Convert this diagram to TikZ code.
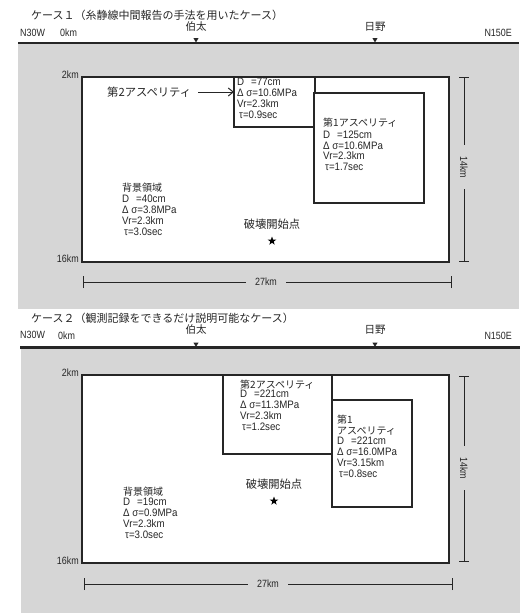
\documentclass[tikz,border=0pt]{standalone}
\usepackage{fontspec}
\newfontfamily\jp{Noto Sans CJK JP}
\newfontfamily\cond[FakeStretch=0.85]{Liberation Sans}
\newfontfamily\condp[FakeStretch=0.9]{Liberation Sans}
\usetikzlibrary{shapes.geometric,arrows.meta}
\definecolor{bg}{gray}{0.84}
\definecolor{ink}{gray}{0.15}
\begin{document}
\begin{tikzpicture}[x=1pt,y=-1pt,
  frame/.style={draw=ink, line width=1.9pt, fill=white, inner sep=0, outer sep=0, anchor=north west},
  aspbox/.style={draw=ink, line width=1.6pt, fill=white, inner sep=0, outer sep=0, anchor=north west},
  par/.style={font=\condp\fontsize{10.8}{10.8}\selectfont, text=ink, align=left, anchor=north west, inner sep=0},
  jlab/.style={font=\jp\fontsize{10}{12}\selectfont, text=ink, inner sep=0},
  jbig/.style={font=\jp\fontsize{11.3}{13}\selectfont, text=ink, inner sep=0},
  small/.style={font=\cond\fontsize{10.5}{11}\selectfont, text=ink, inner sep=0},
  dim/.style={draw=ink, line width=0.9pt},
  topline/.style={draw=ink, line width=2.8pt},
  stn/.style={regular polygon, regular polygon sides=3, shape border rotate=180, fill=ink, inner sep=0, minimum size=6pt},
  epic/.style={star, star points=5, star point ratio=2.5, fill=black, inner sep=0, minimum size=9pt},
  dimlab/.style={small, fill=bg, inner xsep=9pt, inner ysep=1pt},
  arr/.style={draw=ink, line width=1pt, -{Straight Barb[length=5pt,width=8pt]}}
]
\useasboundingbox (0,0) rectangle (529,613);
\fill[white] (0,0) rectangle (529,613);

% ================= Panel 1 =================
\fill[bg] (18,43) rectangle (519,309);
\draw[topline] (18,43) -- (519,43);
\node[jbig, font=\jp\fontsize{11}{13}\selectfont, anchor=west] (title1) at (31,15) {ケース１（糸静線中間報告の手法を用いたケース）};
\node[small, anchor=west] (nw1) at (20,33) {N30W};
\node[small, anchor=west] (ok1) at (60,33) {0km};
\node[jlab, font=\jp\fontsize{10.5}{12}\selectfont] (hakuta1) at (196,27) {伯太};
\node[stn] (hm1) at (196,39.5) {};
\node[jlab, font=\jp\fontsize{10.5}{12}\selectfont] (hino1) at (375,27) {日野};
\node[stn] (nm1) at (375,39.5) {};
\node[small, anchor=east] (ne1) at (512,33) {N150E};

\node[frame, minimum width=367pt, minimum height=185pt] (main1) at (82,77) {};
\node[small, anchor=east] (k2a) at (79,75) {2km};
\node[small, anchor=east] (k16a) at (79,259) {16km};

\node[aspbox, minimum width=81pt, minimum height=50pt] (asp2a) at (234,77) {};
\node[aspbox, minimum width=110pt, minimum height=110pt] (asp1a) at (314,93) {};

\node[par] (p2a) at (237,78) {D\hspace{7pt}=77cm\\Δ σ=10.6MPa\\Vr=2.3km\\\hspace{2pt}τ=0.9sec};
\node[jbig, anchor=west] (l2a) at (107,92) {第2アスペリティ};
\draw[arr] ([xshift=7pt]l2a.east) -- (l2a.east -| asp2a.west);

\node[jlab, anchor=west] (h1a) at (323,123) {第1アスペリティ};
\node[par] (p1a) at (323,130.5) {D\hspace{7pt}=125cm\\Δ σ=10.6MPa\\Vr=2.3km\\\hspace{2pt}τ=1.7sec};

\node[jlab, anchor=west] (hb1) at (122,188) {背景領域};
\node[par] (pb1) at (122,195) {D\hspace{7pt}=40cm\\Δ σ=3.8MPa\\Vr=2.3km\\\hspace{2pt}τ=3.0sec};

\node[jbig] (hk1) at (272,224) {破壊開始点};
\node[epic] (st1) at (272,241) {};

\coordinate (d14a1) at (464,77);
\coordinate (d14b1) at (464,261);
\draw[dim] (d14a1) -- (d14b1);
\draw[dim] ([xshift=-5pt]d14a1) -- ([xshift=5pt]d14a1);
\draw[dim] ([xshift=-5pt]d14b1) -- ([xshift=5pt]d14b1);
\node[dimlab, rotate=-90, inner xsep=11pt] (l14a) at (464,167) {14km};

\coordinate (d27a1) at (83,282);
\coordinate (d27b1) at (451,282);
\draw[dim] (d27a1) -- (d27b1);
\draw[dim] ([yshift=-6pt]d27a1) -- ([yshift=6pt]d27a1);
\draw[dim] ([yshift=-6pt]d27b1) -- ([yshift=6pt]d27b1);
\node[dimlab] (l27a) at (266,282) {27km};

% ================= Panel 2 =================
\fill[bg] (21,348) rectangle (520,613);
\draw[topline] (20,347.5) -- (520,347.5);
\node[jbig, font=\jp\fontsize{11}{13}\selectfont, anchor=west] (title2) at (31,318) {ケース２（観測記録をできるだけ説明可能なケース）};
\node[small, anchor=west] (nw2) at (20,335) {N30W};
\node[small, anchor=west] (ok2) at (58,336) {0km};
\node[jlab, font=\jp\fontsize{10.5}{12}\selectfont] (hakuta2) at (196,330) {伯太};
\node[stn] (hm2) at (196,344) {};
\node[jlab, font=\jp\fontsize{10.5}{12}\selectfont] (hino2) at (375,330) {日野};
\node[stn] (nm2) at (375,344) {};
\node[small, anchor=east] (ne2) at (512,336) {N150E};

\node[frame, minimum width=367pt, minimum height=188pt] (main2) at (82,375) {};
\node[small, anchor=east] (k2b) at (79,373) {2km};
\node[small, anchor=east] (k16b) at (79,561) {16km};

\node[aspbox, minimum width=109pt, minimum height=79pt] (asp2b) at (223,375) {};
\node[aspbox, minimum width=80pt, minimum height=107pt] (asp1b) at (332,400) {};

\node[jlab, anchor=west] (h2b) at (240,385) {第2アスペリティ};
\node[par] (p2b) at (240,390) {D\hspace{7pt}=221cm\\Δ σ=11.3MPa\\Vr=2.3km\\\hspace{2pt}τ=1.2sec};

\node[jlab, anchor=west] (h1b) at (337,420) {第1};
\node[jlab, anchor=west] (h1bb) at (337,431) {アスペリティ};
\node[par] (p1b) at (337,437) {D\hspace{7pt}=221cm\\Δ σ=16.0MPa\\Vr=3.15km\\\hspace{2pt}τ=0.8sec};

\node[jlab, anchor=west] (hb2) at (123,492) {背景領域};
\node[par] (pb2) at (123,498) {D\hspace{7pt}=19cm\\Δ σ=0.9MPa\\Vr=2.3km\\\hspace{2pt}τ=3.0sec};

\node[jbig] (hk2) at (274,484) {破壊開始点};
\node[epic] (st2) at (274,501) {};

\coordinate (d14a2) at (464,376);
\coordinate (d14b2) at (464,561);
\draw[dim] (d14a2) -- (d14b2);
\draw[dim] ([xshift=-5pt]d14a2) -- ([xshift=5pt]d14a2);
\draw[dim] ([xshift=-5pt]d14b2) -- ([xshift=5pt]d14b2);
\node[dimlab, rotate=-90, inner xsep=11pt] (l14b) at (464,468) {14km};

\coordinate (d27a2) at (84,584);
\coordinate (d27b2) at (452,584);
\draw[dim] (d27a2) -- (d27b2);
\draw[dim] ([yshift=-6pt]d27a2) -- ([yshift=6pt]d27a2);
\draw[dim] ([yshift=-6pt]d27b2) -- ([yshift=6pt]d27b2);
\node[dimlab] (l27b) at (268,584) {27km};
\end{tikzpicture}
\end{document}
